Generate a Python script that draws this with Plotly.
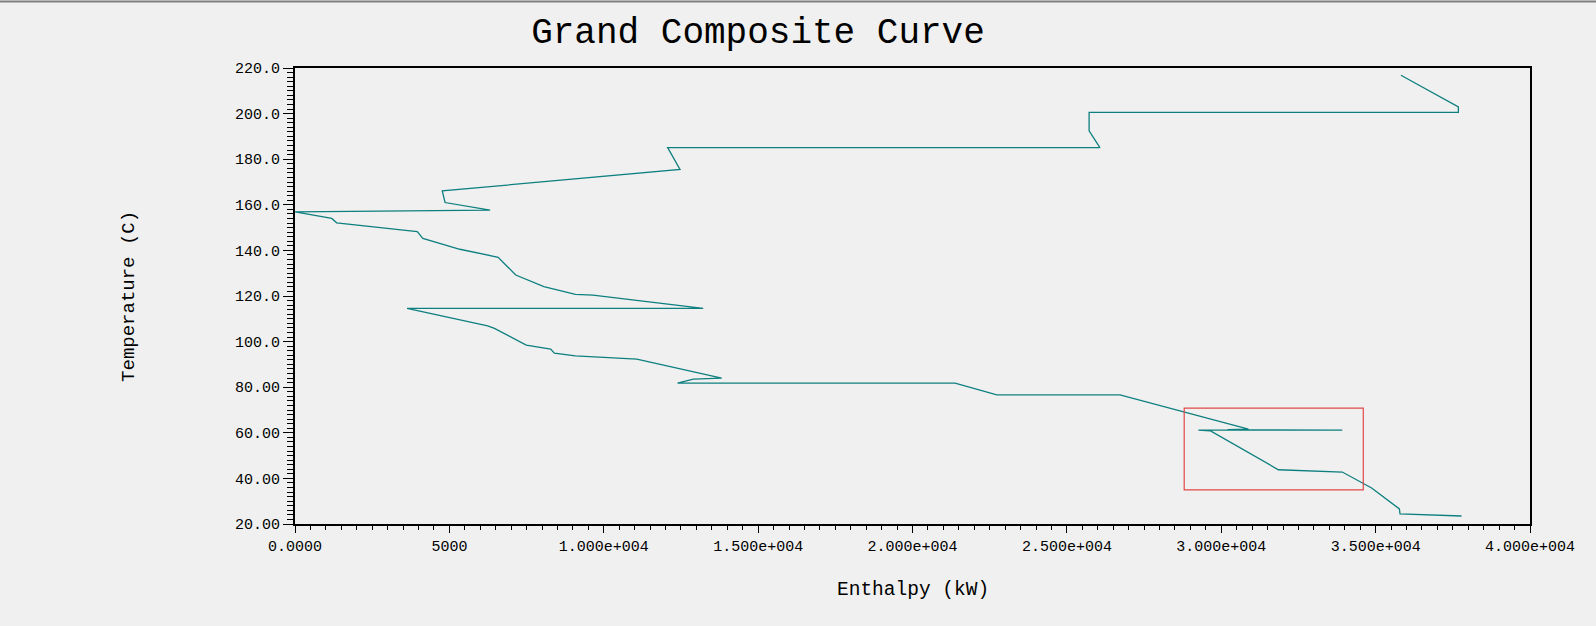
import plotly.graph_objects as go

# Grand composite curve, traced from top (hot end) to bottom (cold end)
enthalpy_kw = [35820, 37680, 37680, 25720, 25720, 26070, 12070, 12470, 4770, 4860,
               6320, 0, 1190, 1350, 3510, 3960, 4140, 5340, 6580, 6920,
               7150, 8060, 9080, 9650, 13060, 13220, 3630, 6240, 6460, 7490,
               8280, 8400, 9080, 11070, 13820, 12900, 12390, 21380, 22730, 26720,
               30880, 30200, 33920, 29260, 29640, 31850, 32390, 33920, 34870, 35770,
               35790, 36330, 37780]
temperature_c = [216.8, 202.9, 200.5, 200.5, 192.4, 185.1, 185.1, 175.5, 166.1, 161.0,
                 157.7, 156.9, 154.0, 152.1, 148.9, 148.2, 145.3, 140.5, 137.0, 132.1,
                 129.2, 124.1, 120.7, 120.4, 115.0, 114.6, 114.6, 106.9, 105.8, 98.5,
                 96.7, 94.9, 93.7, 92.3, 84.0, 83.5, 81.8, 81.8, 76.6, 76.6,
                 61.6, 61.4, 61.2, 61.2, 60.9, 43.8, 43.5, 42.8, 35.8, 26.6,
                 24.4, 24.1, 23.5]

x_tick_vals = [0, 5000, 10000, 15000, 20000, 25000, 30000, 35000, 40000]
x_tick_text = ["0.0000", "5000", "1.000e+004", "1.500e+004", "2.000e+004",
               "2.500e+004", "3.000e+004", "3.500e+004", "4.000e+004"]
y_tick_vals = [20, 40, 60, 80, 100, 120, 140, 160, 180, 200, 220]
y_tick_text = ["20.00", "40.00", "60.00", "80.00", "100.0", "120.0", "140.0",
               "160.0", "180.0", "200.0", "220.0"]

# highlighted region (red box)
box_x = [28800, 34600]
box_y = [35.0, 70.8]

FONT = "Liberation Mono"
BG = "#f0f0f0"

fig = go.Figure()
fig.add_trace(go.Scatter(
    x=enthalpy_kw, y=temperature_c, mode="lines",
    line=dict(color="#0e7f7f", width=1.3), showlegend=False, hoverinfo="x+y"))

fig.add_shape(type="rect", xref="x", yref="y",
              x0=box_x[0], x1=box_x[1], y0=box_y[0], y1=box_y[1],
              line=dict(color="#e04848", width=1.2), fillcolor="rgba(0,0,0,0)")

# window border line at the very top
fig.add_shape(type="line", xref="paper", yref="paper",
              x0=-0.25, x1=1.06, y0=1.146, y1=1.146,
              line=dict(color="#808080", width=2))

axis_common = dict(
    showgrid=False, zeroline=False, showline=True, linecolor="black",
    linewidth=2, mirror=True, ticks="outside", tickcolor="black",
    tickfont=dict(family=FONT, size=15, color="black"),
)

fig.update_xaxes(range=[0, 40000], tickmode="array", tickvals=x_tick_vals,
                 ticktext=x_tick_text, ticklen=7, tickwidth=1,
                 minor=dict(dtick=500, ticklen=4, ticks="outside", tickcolor="black", tickwidth=1),
                 **axis_common)
fig.update_yaxes(range=[20, 220], tickmode="array", tickvals=y_tick_vals,
                 ticktext=y_tick_text, ticklen=10, tickwidth=1,
                 minor=dict(dtick=2, ticklen=6, ticks="outside", tickcolor="black", tickwidth=1),
                 **axis_common)

fig.add_annotation(text="Enthalpy (kW)", xref="paper", yref="paper",
                   x=0.5004, y=-0.145, xanchor="center", yanchor="middle",
                   showarrow=False,
                   font=dict(family=FONT, size=19.5, color="black"))
fig.add_annotation(text="Temperature (C)", xref="paper", yref="paper",
                   x=-0.1344, y=0.498, xanchor="center", yanchor="middle",
                   showarrow=False, textangle=-90,
                   font=dict(family=FONT, size=19, color="black"))

fig.update_layout(
    width=1596, height=626,
    margin=dict(l=295, r=66, t=68, b=102),
    paper_bgcolor=BG, plot_bgcolor=BG,
    title=dict(text="Grand Composite Curve", x=758 / 1596, xanchor="center",
               y=1 - 30.5 / 626, yanchor="middle", xref="container", yref="container",
               font=dict(family=FONT, size=36, color="black")),
    showlegend=False,
)

fig.write_html(
    "out.html",
    config={"displayModeBar": False},
    post_script="document.body.style.margin='0';document.body.style.background='#f0f0f0';"
                "document.body.style.overflow='hidden';",
)
